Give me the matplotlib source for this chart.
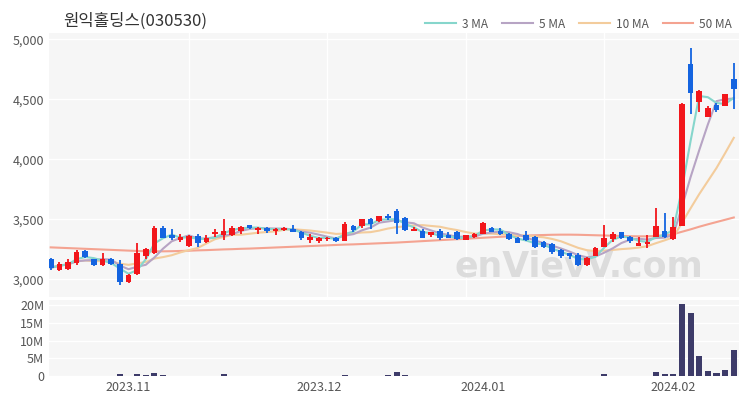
import numpy as np
import pandas as pd
import matplotlib
matplotlib.use("Agg")
from matplotlib import pyplot as plt

plt.rcParams['font.family'] = ['Noto Sans CJK KR', 'DejaVu Sans']

title = "원익홀딩스(030530)"
month_pos = [9, 31, 50, 72]
month_labels = ["2023.11", "2023.12", "2024.01", "2024.02"]

# daily candles, 2023-10-19 .. 2024-02-14
opens = [3170, 3080, 3085, 3135, 3235, 3165, 3115, 3170, 3130, 2975,
         3040, 3195, 3215, 3430, 3365, 3325, 3280, 3360, 3310, 3375,
         3365, 3370, 3400, 3450, 3410, 3430, 3405, 3410, 3420, 3390,
         3325, 3315, 3335, 3345, 3320, 3445, 3440, 3505, 3485, 3530,
         3565, 3510, 3400, 3405, 3370, 3405, 3365, 3390, 3330, 3355,
         3380, 3430, 3405, 3380, 3345, 3365, 3350, 3310, 3290, 3240,
         3215, 3205, 3115, 3195, 3270, 3335, 3390, 3355, 3280, 3290,
         3355, 3405, 3335, 3445, 4790, 4480, 4355, 4450, 4445, 4665]
highs = [3180, 3145, 3165, 3240, 3240, 3170, 3215, 3175, 3160, 3045,
         3305, 3260, 3440, 3440, 3420, 3375, 3365, 3380, 3370, 3420,
         3505, 3440, 3445, 3455, 3435, 3435, 3425, 3435, 3450, 3400,
         3380, 3355, 3355, 3350, 3475, 3450, 3505, 3510, 3530, 3545,
         3585, 3520, 3435, 3420, 3395, 3415, 3390, 3400, 3370, 3385,
         3475, 3435, 3430, 3385, 3350, 3400, 3360, 3320, 3300, 3250,
         3220, 3215, 3185, 3265, 3450, 3390, 3395, 3360, 3355, 3365,
         3595, 3555, 3520, 4465, 4930, 4580, 4440, 4470, 4545, 4805]
lows = [3075, 3065, 3080, 3120, 3180, 3110, 3110, 3120, 2955, 2965,
        3035, 3170, 3210, 3340, 3325, 3310, 3270, 3270, 3300, 3355,
        3330, 3360, 3375, 3420, 3375, 3385, 3370, 3400, 3390, 3325,
        3300, 3300, 3315, 3310, 3315, 3390, 3430, 3415, 3480, 3490,
        3380, 3400, 3398, 3340, 3355, 3330, 3340, 3330, 3325, 3345,
        3375, 3390, 3370, 3330, 3300, 3320, 3260, 3260, 3210, 3180,
        3170, 3110, 3110, 3190, 3265, 3310, 3335, 3300, 3275, 3260,
        3350, 3345, 3325, 3440, 4380, 4395, 4350, 4390, 4440, 4415]
closes = [3095, 3130, 3145, 3225, 3185, 3115, 3165, 3125, 2975, 3035,
          3215, 3250, 3430, 3345, 3340, 3350, 3360, 3300, 3345, 3395,
          3405, 3430, 3435, 3425, 3430, 3400, 3420, 3430, 3395, 3340,
          3350, 3340, 3345, 3320, 3460, 3410, 3500, 3460, 3525, 3510,
          3465, 3410, 3420, 3345, 3390, 3345, 3345, 3335, 3365, 3380,
          3470, 3395, 3375, 3335, 3305, 3325, 3270, 3270, 3225, 3190,
          3195, 3120, 3180, 3260, 3345, 3380, 3340, 3320, 3300, 3310,
          3445, 3355, 3435, 4460, 4555, 4565, 4430, 4410, 4540, 4585]
ma50 = [3265, 3262, 3259, 3256, 3253, 3250, 3247, 3244, 3241, 3238,
        3235, 3233, 3232, 3232, 3233, 3235, 3237, 3240, 3242, 3245,
        3248, 3250, 3253, 3255, 3258, 3261, 3264, 3267, 3270, 3273,
        3276, 3279, 3282, 3285, 3288, 3290, 3293, 3296, 3299, 3302,
        3305, 3309, 3313, 3317, 3321, 3325, 3329, 3333, 3337, 3341,
        3345, 3349, 3353, 3357, 3360, 3363, 3366, 3368, 3370, 3371,
        3371, 3370, 3368, 3366, 3364, 3362, 3360, 3358, 3357, 3357,
        3360, 3366, 3375, 3395, 3415, 3437, 3457, 3476, 3495, 3514]
# volume in millions of shares
volume = [0.1, 0.08, 0.1, 0.12, 0.08, 0.1, 0.08, 0.1, 0.5, 0.1,
          0.6, 0.15, 0.9, 0.15, 0.08, 0.08, 0.08, 0.08, 0.08, 0.1,
          0.5, 0.1, 0.08, 0.08, 0.08, 0.08, 0.08, 0.08, 0.08, 0.1,
          0.08, 0.08, 0.08, 0.08, 0.15, 0.1, 0.08, 0.1, 0.08, 0.15,
          1.1, 0.15, 0.08, 0.08, 0.08, 0.08, 0.08, 0.08, 0.08, 0.08,
          0.1, 0.08, 0.08, 0.08, 0.08, 0.08, 0.08, 0.08, 0.1, 0.1,
          0.08, 0.1, 0.08, 0.1, 0.6, 0.1, 0.08, 0.08, 0.08, 0.08,
          1.2, 0.65, 0.6, 20.3, 17.8, 5.7, 1.4, 0.9, 1.6, 7.4]

x = np.arange(len(closes))
o = np.array(opens); c = np.array(closes)
h = np.array(highs); l = np.array(lows)
up = c >= o
red = "#f2161b"
blue = "#1464e0"
cols = np.where(up, red, blue)

s = pd.Series(closes)
ma3 = s.rolling(3, min_periods=1).mean()
ma5 = s.rolling(5, min_periods=1).mean()
ma10 = s.rolling(10, min_periods=1).mean()

fig = plt.figure(figsize=(7.5, 4), dpi=100)
ax = fig.add_axes([0.0653, 0.258, 0.92, 0.659])
axv = fig.add_axes([0.0653, 0.06, 0.92, 0.19])

bg = "#f6f6f6"
for a in (ax, axv):
    a.set_facecolor(bg)
    for sp in a.spines.values():
        sp.set_visible(False)
    a.tick_params(length=0, labelsize=9, colors="#555555")
    a.set_xlim(-0.2, 79.6)

# moving averages
ax.plot(x, ma50, color="#f4a391", lw=1.5, label="50 MA", zorder=2)
ax.plot(x, ma10, color="#f3cc9c", lw=1.5, label="10 MA", zorder=2)
ax.plot(x, ma5, color="#b7a4c4", lw=1.5, label="5 MA", zorder=2)
ax.plot(x, ma3, color="#86d6cc", lw=1.5, label="3 MA", zorder=2)

# candles
ax.vlines(x, l, h, colors=cols, lw=1.3, zorder=3)
body = np.maximum(np.abs(c - o), 6)
ax.bar(x, body, bottom=np.minimum(o, c), width=0.65, color=cols, zorder=4)

ax.set_ylim(2853, 5050)
ax.set_yticks([3000, 3500, 4000, 4500, 5000])
ax.set_yticklabels(["3,000", "3,500", "4,000", "4,500", "5,000"])
ax.set_xticks([16, 32, 48, 64])
ax.set_xticklabels([])
ax.grid(True, color="white", lw=1)
ax.set_axisbelow(True)

ax.text(0.768, 0.115, "enVievV.com", transform=ax.transAxes, fontsize=25,
        fontweight="bold", color="#dcdcdc", ha="center", va="center",
        family="DejaVu Sans", zorder=1)

axv.bar(x, volume, width=0.7, color="#3d3b69", zorder=3)
axv.set_ylim(0, 21.5)
axv.set_yticks([0, 5, 10, 15, 20])
axv.set_yticklabels(["0", "5M", "10M", "15M", "20M"])
axv.set_xticks(month_pos)
axv.set_xticklabels(month_labels)
axv.grid(True, axis="y", color="white", lw=1)
axv.set_axisbelow(True)

fig.text(0.084, 0.948, title, fontsize=12, color="#333333", va="center")

hd, lb = ax.get_legend_handles_labels()
fig.legend(hd[::-1], lb[::-1], loc="center right", bbox_to_anchor=(0.99, 0.94),
           ncol=4, frameon=False, fontsize=8.5, handlelength=2.6,
           columnspacing=1.2, handletextpad=0.5, labelcolor="#555555")

fig.savefig("out.png", dpi=100)
